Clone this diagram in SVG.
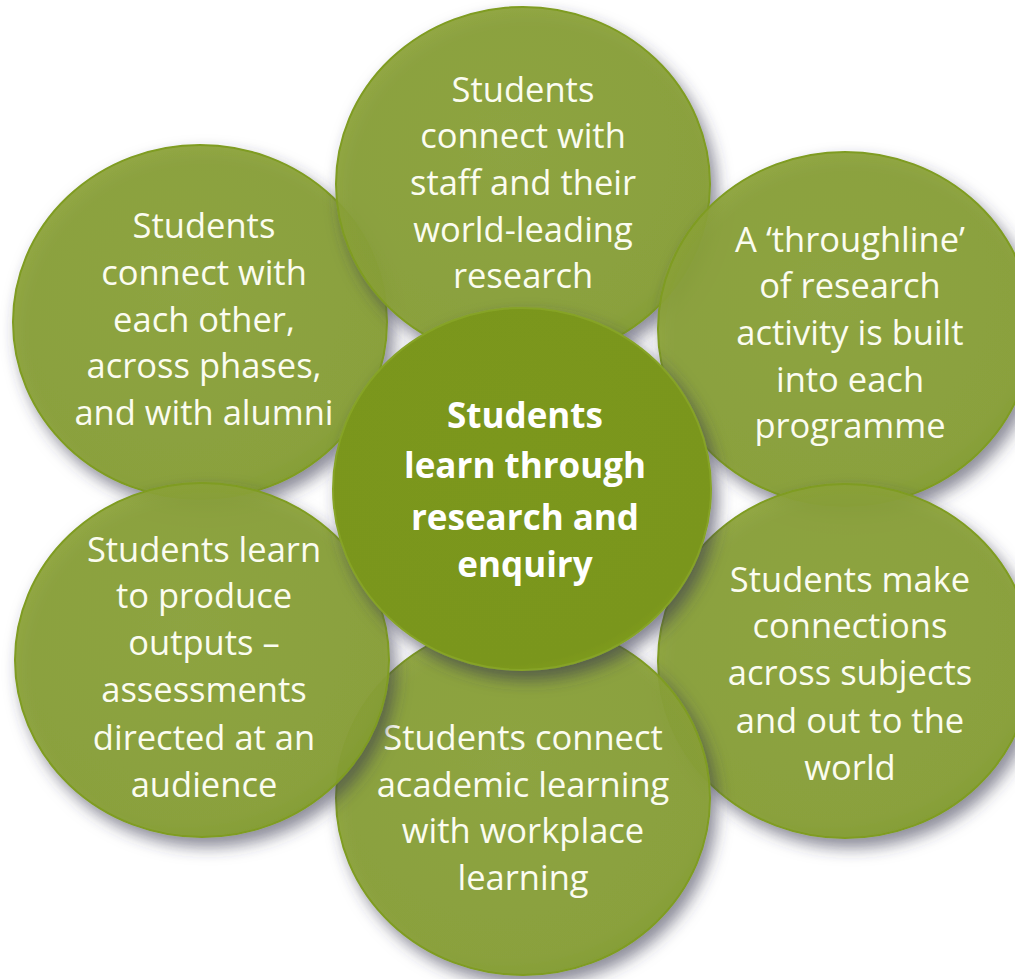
<svg xmlns="http://www.w3.org/2000/svg" width="1015" height="979" viewBox="0 0 1015 979">
  <defs>
    <filter id="shadow" x="-20%" y="-20%" width="150%" height="150%">
      <feDropShadow dx="6" dy="9" stdDeviation="8" flood-color="#34344e" flood-opacity="0.62"/>
    </filter>
    <radialGradient id="outerFill" cx="45%" cy="40%" r="65%">
      <stop offset="0" stop-color="#8ca33a"/>
      <stop offset="0.85" stop-color="#89a036"/>
      <stop offset="1" stop-color="#809c28"/>
    </radialGradient>
    <radialGradient id="centerFill" cx="45%" cy="40%" r="65%">
      <stop offset="0" stop-color="#7b971d"/>
      <stop offset="0.9" stop-color="#7a961b"/>
      <stop offset="1" stop-color="#82a224"/>
    </radialGradient>
  </defs>
  <style>
    .outer { fill: url(#outerFill); fill-opacity: 0.93; stroke: #7f9c20; stroke-width: 2; filter: url(#shadow); }
    .center { fill: url(#centerFill); stroke: #86a326; stroke-width: 2; filter: url(#shadow); }
    .lbl { font-family: "Open Sans", "Noto Sans", sans-serif; font-size: 34.5px; fill: #fbfcf0; text-anchor: middle; }
    .lblb { font-family: "Open Sans", "Noto Sans", sans-serif; font-size: 35px; font-weight: bold; fill: #ffffff; text-anchor: middle; }
  </style>
  <rect width="1015" height="979" fill="#ffffff"/>
  <g id="connectors"/>

  <g id="node-upper-left">
    <ellipse class="outer" cx="200" cy="322" rx="187" ry="177"/>
    <text class="lbl" x="204" y="238">Students</text>
    <text class="lbl" x="204" y="285">connect with</text>
    <text class="lbl" x="204" y="332">each other,</text>
    <text class="lbl" x="204" y="378">across phases,</text>
    <text class="lbl" x="204" y="425">and with alumni</text>
  </g>

  <g id="node-top">
    <ellipse class="outer" cx="523" cy="184" rx="187" ry="177"/>
    <text class="lbl" x="523" y="102">Students</text>
    <text class="lbl" x="523" y="148">connect with</text>
    <text class="lbl" x="523" y="195">staff and their</text>
    <text class="lbl" x="523" y="242">world-leading</text>
    <text class="lbl" x="523" y="288">research</text>
  </g>

  <g id="node-upper-right">
    <ellipse class="outer" cx="845" cy="329" rx="187" ry="177"/>
    <text class="lbl" x="850" y="252">A ‘throughline’</text>
    <text class="lbl" x="850" y="298">of research</text>
    <text class="lbl" x="850" y="345">activity is built</text>
    <text class="lbl" x="850" y="392">into each</text>
    <text class="lbl" x="850" y="438">programme</text>
  </g>

  <g id="node-lower-right">
    <ellipse class="outer" cx="845" cy="661" rx="187" ry="177"/>
    <text class="lbl" x="850" y="592">Students make</text>
    <text class="lbl" x="850" y="638">connections</text>
    <text class="lbl" x="850" y="685">across subjects</text>
    <text class="lbl" x="850" y="733">and out to the</text>
    <text class="lbl" x="850" y="780">world</text>
  </g>

  <g id="node-bottom">
    <ellipse class="outer" cx="523" cy="798" rx="187" ry="177"/>
    <text class="lbl" x="523" y="750">Students connect</text>
    <text class="lbl" x="523" y="797">academic learning</text>
    <text class="lbl" x="523" y="843">with workplace</text>
    <text class="lbl" x="523" y="890">learning</text>
  </g>

  <g id="node-lower-left">
    <ellipse class="outer" cx="202" cy="660" rx="187" ry="177"/>
    <text class="lbl" x="204" y="562">Students learn</text>
    <text class="lbl" x="204" y="608">to produce</text>
    <text class="lbl" x="204" y="655">outputs –</text>
    <text class="lbl" x="204" y="702">assessments</text>
    <text class="lbl" x="204" y="750">directed at an</text>
    <text class="lbl" x="204" y="797">audience</text>
  </g>

  <g id="node-center">
    <ellipse class="center" cx="522" cy="489" rx="189" ry="181"/>
    <text class="lblb" x="525" y="428">Students</text>
    <text class="lblb" x="525" y="478">learn through</text>
    <text class="lblb" x="525" y="530">research and</text>
    <text class="lblb" x="525" y="577">enquiry</text>
  </g>
</svg>
